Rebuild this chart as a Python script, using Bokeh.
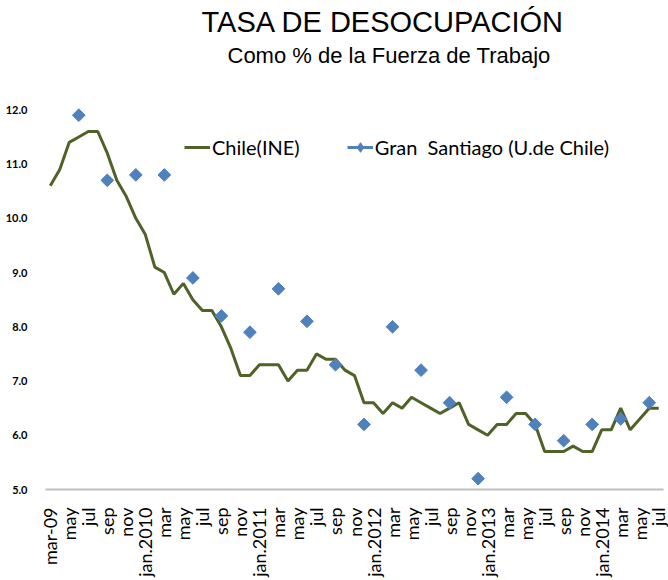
from math import pi
from bokeh.plotting import figure
from bokeh.models import (FixedTicker, Title, Legend, LegendItem, ColumnDataSource,
                          NumeralTickFormatter, Range1d)
from bokeh.embed import file_html
from bokeh.resources import INLINE

# ---------------- data ----------------
chile_ine = [10.6, 10.9, 11.4, 11.5, 11.6, 11.6, 11.2, 10.7, 10.4, 10.0,
             9.7, 9.1, 9.0, 8.6, 8.8, 8.5, 8.3, 8.3, 8.0, 7.6, 7.1, 7.1,
             7.3, 7.3, 7.3, 7.0, 7.2, 7.2, 7.5, 7.4, 7.4, 7.2, 7.1, 6.6,
             6.6, 6.4, 6.6, 6.5, 6.7, 6.6, 6.5, 6.4, 6.5, 6.6, 6.2, 6.1,
             6.0, 6.2, 6.2, 6.4, 6.4, 6.2, 5.7, 5.7, 5.7, 5.8, 5.7, 5.7,
             6.1, 6.1, 6.5, 6.1, 6.3, 6.5, 6.5]
months = list(range(len(chile_ine)))  # mar-09 .. jul-14 monthly index

# Gran Santiago (quarterly: jun, sep, dec, mar)
gs_month_idx = [3, 6, 9, 12, 15, 18, 21, 24, 27, 30, 33, 36, 39, 42, 45,
                48, 51, 54, 57, 60, 63]
gran_santiago = [11.9, 10.7, 10.8, 10.8, 8.9, 8.2, 7.9, 8.7, 8.1, 7.3, 6.2,
                 8.0, 7.2, 6.6, 5.2, 6.7, 6.2, 5.9, 6.2, 6.3, 6.6]

tick_labels = ["mar-09", "may", "jul", "sep", "nov", "jan.2010", "mar", "may",
               "jul", "sep", "nov", "jan.2011", "mar", "may", "jul", "sep",
               "nov", "jan.2012", "mar", "may", "jul", "sep", "nov",
               "jan.2013", "mar", "may", "jul", "sep", "nov", "jan.2014",
               "mar", "may", "jul"]
y_ticks = [5, 6, 7, 8, 9, 10, 11, 12]

TITLE = "TASA DE DESOCUPACIÓN"
SUBTITLE = "Como % de la  Fuerza de Trabajo"

GREEN = "#4F6228"
BLUE = "#4F81BD"

# ---------------- layout ----------------
W, H = 668, 580
BL, BR, BT, BB = 45, 5, 0, 91

p = figure(width=W, height=H, output_backend="svg", toolbar_location=None,
           title=None,
           x_range=Range1d(-0.5, 64.5), y_range=Range1d(5.0, 12.78),
           min_border_left=BL, min_border_right=BR,
           min_border_top=BT, min_border_bottom=BB)
p.outline_line_color = None
p.xgrid.grid_line_color = None
p.ygrid.grid_line_color = None
p.extra_y_ranges = {"legend_only": Range1d(100, 101)}

src_line = ColumnDataSource(dict(x=months, y=chile_ine))
src_gs = ColumnDataSource(dict(x=gs_month_idx, y=gran_santiago))

line_r = p.line("x", "y", source=src_line, line_color=GREEN, line_width=3)
gs_r = p.scatter("x", "y", source=src_gs, marker="square", size=9,
                 angle=pi / 4, fill_color=BLUE, line_color=BLUE)
# legend-only renderers (mapped outside the visible frame)
gs_line = p.line("x", "y", source=src_gs, y_range_name="legend_only",
                 line_color=BLUE, line_width=3)
gs_leg_mark = p.scatter("x", "y", source=src_gs, y_range_name="legend_only",
                        marker="diamond", fill_color=BLUE, line_color=BLUE)

# x axis
xa = p.xaxis[0]
xa.ticker = FixedTicker(ticks=list(range(0, 65, 2)))
xa.major_label_overrides = {i * 2: lab for i, lab in enumerate(tick_labels)}
xa.major_label_orientation = pi / 2
xa.major_label_text_font = "Lato"
xa.major_label_text_font_size = "18px"
xa.major_label_text_color = "#000000"
xa.major_label_standoff = 12
xa.major_tick_line_color = None
xa.minor_tick_line_color = None
xa.axis_line_color = "#BFBFBF"
xa.axis_line_width = 2

# y axis
ya = p.yaxis[0]
ya.ticker = FixedTicker(ticks=y_ticks)
ya.formatter = NumeralTickFormatter(format="0.0")
ya.major_label_text_font = "Lato"
ya.major_label_text_font_style = "bold"
ya.major_label_text_font_size = "11px"
ya.major_label_text_color = "#000000"
ya.major_label_standoff = 12
ya.major_tick_line_color = None
ya.minor_tick_line_color = None
ya.axis_line_color = None

# titles (last added is the top one)
p.add_layout(Title(text=SUBTITLE, align="left", offset=182, standoff=0,
                   text_font="Liberation Sans", text_font_size="22px",
                   text_font_style="normal", text_color="#000000"), "above")
p.add_layout(Title(text=TITLE, align="left", offset=156, standoff=6,
                   text_font="Liberation Sans", text_font_size="29px",
                   text_font_style="normal", text_color="#000000"), "above")

legend = Legend(items=[LegendItem(label="Chile(INE)", renderers=[line_r]),
                       LegendItem(label="Gran  Santiago (U.de Chile)",
                                  renderers=[gs_line, gs_leg_mark])],
                orientation="horizontal", location=(139, 330),
                glyph_width=26, glyph_height=24, label_standoff=2,
                spacing=47, padding=0, margin=0,
                border_line_color=None, background_fill_alpha=0,
                label_text_font="Lato", label_text_font_size="20px",
                label_text_color="#000000")
p.add_layout(legend)

open("out.html", "w").write(file_html(p, INLINE))
